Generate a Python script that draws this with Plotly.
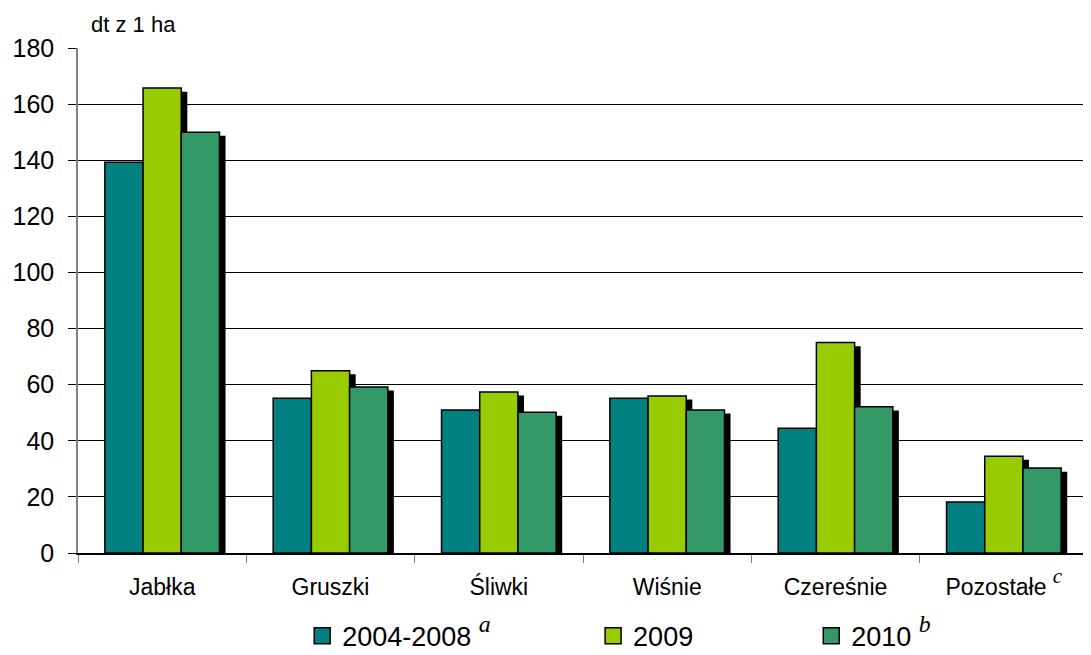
import plotly.graph_objects as go

categories = ["Jabłka", "Gruszki", "Śliwki", "Wiśnie", "Czereśnie", "Pozostałe"]
sup = "<span style='font-family:Liberation Serif;font-style:italic;font-size:{s}px'><sup>{t}</sup></span>"
tick_labels = ["Jabłka", "Gruszki", "Śliwki", "Wiśnie", "Czereśnie",
               "Pozostałe " + sup.format(s=30, t="c")]
series_names = [
    "2004-2008 " + sup.format(s=34, t="a"),
    "2009",
    "2010 " + sup.format(s=34, t="b"),
]
v_2004_2008 = [139.3, 55.2, 51.0, 55.2, 44.5, 18.2]
v_2009 = [165.7, 65.0, 57.4, 56.0, 75.0, 34.5]
v_2010 = [150.0, 59.2, 50.2, 51.0, 52.1, 30.3]
y_ticks = [0, 20, 40, 60, 80, 100, 120, 140, 160, 180]

colors = ["#008080", "#99CC00", "#339966"]
series = [v_2004_2008, v_2009, v_2010]
legend_ids = ["legend", "legend2", "legend3"]
legend_x = [0.222, 0.510, 0.726]

font = "Liberation Sans, Arial, sans-serif"
bar_w = 0.227
offsets = [-1.5 * bar_w, -0.5 * bar_w, 0.5 * bar_w]
shadow_dx = 0.036
shadow_dy = 1.3

fig = go.Figure()
# shadows
for vals, off in zip(series, offsets):
    fig.add_trace(go.Bar(
        x=categories, y=[v - shadow_dy for v in vals], offset=off + shadow_dx, width=bar_w,
        marker=dict(color="black", line=dict(width=0)), showlegend=False, hoverinfo="skip"))
# bars
for name, vals, off, c, lg in zip(series_names, series, offsets, colors, legend_ids):
    fig.add_trace(go.Bar(
        x=categories, y=vals, offset=off, width=bar_w, name=name, legendgroup=lg,
        showlegend=False,
        marker=dict(color=c, line=dict(color="black", width=1.5))))
    # legend proxy with a larger square symbol
    fig.add_trace(go.Scatter(
        x=[None], y=[None], mode="markers", name=name, legendgroup=lg, legend=lg,
        marker=dict(symbol="square", size=16, color=c, line=dict(color="black", width=1.5))))

legend_common = dict(orientation="h", yref="container", y=0.029, yanchor="middle",
                     xanchor="left", font=dict(size=27), itemwidth=30,
                     bgcolor="rgba(0,0,0,0)")

fig.update_layout(
    width=1083, height=647,
    barmode="overlay",
    plot_bgcolor="white", paper_bgcolor="white",
    margin=dict(l=70, r=3, t=40, b=102, autoexpand=False),
    font=dict(family=font, color="black"),
    legend=dict(x=legend_x[0], **legend_common),
    legend2=dict(x=legend_x[1], **legend_common),
    legend3=dict(x=legend_x[2], **legend_common),
    xaxis=dict(
        tickmode="array", tickvals=categories, ticktext=tick_labels,
        tickson="boundaries", ticks="outside", ticklen=8, tickcolor="#808080",
        tickfont=dict(size=23), ticklabelstandoff=13,
        showline=True, linecolor="black", linewidth=1.5,
        range=[-0.5, 5.5], showgrid=False),
    yaxis=dict(
        range=[0, 180], tickvals=y_ticks, ticks="outside", ticklen=8, tickcolor="black",
        tickfont=dict(size=25), ticklabelstandoff=9,
        showgrid=True, gridcolor="black", gridwidth=1.2,
        showline=True, linecolor="#808080", linewidth=1.5, zeroline=False),
    annotations=[dict(text="dt z 1 ha", xref="paper", yref="paper", x=0.011, y=1.046,
                      xanchor="left", yanchor="middle", showarrow=False,
                      font=dict(size=22))],
)

fig.write_html("out.html")
